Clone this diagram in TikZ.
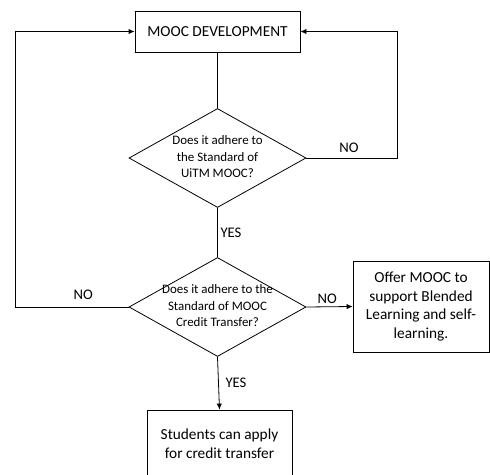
\documentclass[tikz,border=0pt]{standalone}
\usepackage{fontspec}
\setmainfont{Carlito}
\usetikzlibrary{shapes.geometric,arrows.meta}

\newcommand{\dtext}[1]{\makebox[0pt]{\begin{tabular}{@{}c@{}}#1\end{tabular}}}

\tikzset{
    procbox/.style={draw, rectangle, align=center, inner sep=2pt,
        font=\fontsize{11.5}{14}\selectfont},
    decision/.style={draw, diamond, aspect=1.8, inner sep=0pt,
        minimum width=132.75pt, minimum height=74.25pt,
        font=\fontsize{9.7}{12.4}\selectfont},
    flow/.style={-{Latex[length=4.5pt,width=4pt]}},
    tag/.style={font=\fontsize{11}{13}\selectfont, inner sep=2pt}
}

\begin{document}
\begin{tikzpicture}[x=0.75pt, y=-0.75pt, line width=0.6pt]
    \useasboundingbox (0,0) rectangle (490,475);
    \clip (0,0) rectangle (490,475);

    % boxes
    \node[procbox, minimum width=123.75pt, minimum height=30.75pt] (dev) at (217.5,31.5) {MOOC DEVELOPMENT};
    \node[procbox, minimum width=102pt, minimum height=68.25pt] (offer) at (421,306.5)
        {Offer MOOC to\\support Blended\\Learning and self-\\learning.};
    \node[procbox, minimum width=108.75pt, minimum height=51pt] (student) at (219.5,444)
        {Students can apply\\for credit transfer};

    % decisions
    \node[decision] (uitm) at (217.5,158) {\dtext{Does it adhere to\\the Standard of\\UiTM MOOC?}};
    \node[decision] (credit) at (217.5,307) {\dtext{Does it adhere to the\\Standard of MOOC\\Credit Transfer?}};

    % turning points of the loops
    \coordinate (rturn) at (397,158);
    \coordinate (lturn) at (15,307);

    % connectors
    \draw (dev.south) -- (uitm.north);
    \draw (uitm.south) -- node[tag, right, pos=0.5] {YES} (credit.north);
    \draw[flow] (uitm.east) -- node[tag, above, pos=0.47, yshift=2pt] {NO} (rturn) |- (dev.east);
    \draw[flow] (credit.west) -- node[tag, above, pos=0.4, yshift=3.5pt] {NO} (lturn) |- (dev.west);
    \draw[flow] (credit.east) -- node[tag, above, pos=0.45] {NO} (offer.west);
    \draw[flow] (credit.south) -- node[tag, right, xshift=3pt] {YES} (student.north);
\end{tikzpicture}
\end{document}
